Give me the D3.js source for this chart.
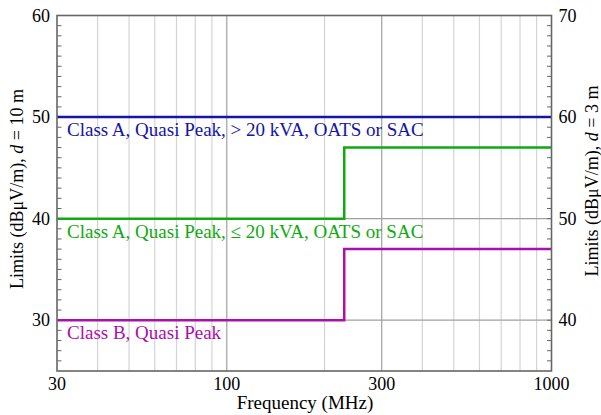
<!DOCTYPE html>
<html>
<head>
<meta charset="utf-8">
<script src="https://cdn.jsdelivr.net/npm/d3@7"></script>
<style>
  html, body { margin: 0; padding: 0; background: #fff; }
  svg { display: block; }
</style>
</head>
<body>
<svg id="chart" width="601" height="415"></svg>
<script>
// Radiated emission limits (quasi-peak), step change at 230 MHz
const freqBreaks = [30, 230, 1000];
const classAOver20kVA = [50, 50];
const classAUpTo20kVA = [40, 47];
const classB = [30, 37];
const seriesNames = [
  "Class A, Quasi Peak, > 20 kVA, OATS or SAC",
  "Class A, Quasi Peak, \u2264 20 kVA, OATS or SAC",
  "Class B, Quasi Peak"
];
const seriesColors = ["#1414a8", "#10aa10", "#aa10aa"];
const xTickValues = [30, 100, 300, 1000];
const xGridMinor = [40, 50, 60, 70, 80, 90, 200, 400, 500, 600, 700, 800, 900];
const yTickValues = [30, 40, 50, 60];
const y3mTickValues = [40, 50, 60, 70];

const FONT = '"Liberation Serif"';
const svg = d3.select("#chart");
const L = 57, R = 551.5, T = 15.5, B = 371;

const x = d3.scaleLog().domain([30, 1000]).range([L, R]);
const y = d3.scaleLinear().domain([25, 60]).range([B, T]);
const y3 = d3.scaleLinear().domain([35, 70]).range([B, T]);

// grid
const g = svg.append("g");
g.selectAll(".vminor").data(xGridMinor).join("line")
  .attr("x1", d => x(d)).attr("x2", d => x(d))
  .attr("y1", T).attr("y2", B)
  .attr("stroke", "#d4d4d4").attr("stroke-width", 1.2);
g.selectAll(".vmajor").data([100, 300]).join("line")
  .attr("x1", d => x(d)).attr("x2", d => x(d))
  .attr("y1", T).attr("y2", B)
  .attr("stroke", "#a0a0a0").attr("stroke-width", 1.2);
g.selectAll(".hmajor").data([30, 40, 50]).join("line")
  .attr("x1", L).attr("x2", R)
  .attr("y1", d => y(d)).attr("y2", d => y(d))
  .attr("stroke", "#a0a0a0").attr("stroke-width", 1.2);

// minor ticks on both y axes (inward)
const leftMinor = d3.range(26, 60, 1);
svg.append("g").selectAll("line").data(leftMinor).join("line")
  .attr("x1", L).attr("x2", L + 4.5)
  .attr("y1", d => y(d)).attr("y2", d => y(d))
  .attr("stroke", "#666").attr("stroke-width", 1);
const rightMinor = d3.range(36, 70, 1);
svg.append("g").selectAll("line").data(rightMinor).join("line")
  .attr("x1", R).attr("x2", R - 4.5)
  .attr("y1", d => y3(d)).attr("y2", d => y3(d))
  .attr("stroke", "#666").attr("stroke-width", 1);

// limit lines
const line = d3.line().curve(d3.curveStepAfter)
  .x(d => x(d[0])).y(d => y(d[1]));
const series = [classAOver20kVA, classAUpTo20kVA, classB];
series.forEach((vals, i) => {
  const pts = [[freqBreaks[0], vals[0]], [freqBreaks[1], vals[1]], [freqBreaks[2], vals[1]]];
  svg.append("path").datum(pts)
    .attr("d", line)
    .attr("fill", "none")
    .attr("stroke", seriesColors[i])
    .attr("stroke-width", 2.5);
  svg.append("text")
    .attr("x", L + 10)
    .attr("y", y(vals[0]) + 19)
    .style("font-family", FONT)
    .attr("font-size", 19)
    .attr("fill", seriesColors[i])
    .text(seriesNames[i]);
});

// frame
svg.append("rect")
  .attr("x", L).attr("y", T).attr("width", R - L).attr("height", B - T)
  .attr("fill", "none").attr("stroke", "#666").attr("stroke-width", 1.6);

// tick labels
svg.append("g").selectAll("text").data(xTickValues).join("text")
  .attr("x", d => x(d)).attr("y", B + 19)
  .attr("text-anchor", "middle").style("font-family", FONT).attr("font-size", 18).attr("fill", "#000")
  .text(d => d);
svg.append("g").selectAll("text").data(yTickValues).join("text")
  .attr("x", L - 7).attr("y", d => y(d) + 6)
  .attr("text-anchor", "end").style("font-family", FONT).attr("font-size", 18).attr("fill", "#000")
  .text(d => d);
svg.append("g").selectAll("text").data(y3mTickValues).join("text")
  .attr("x", R + 7).attr("y", d => y3(d) + 6)
  .attr("text-anchor", "start").style("font-family", FONT).attr("font-size", 18).attr("fill", "#000")
  .text(d => d);

// axis titles
svg.append("text")
  .attr("x", 305).attr("y", 409)
  .attr("text-anchor", "middle").style("font-family", FONT).attr("font-size", 19)
  .text("Frequency (MHz)");

const lt = svg.append("text")
  .attr("transform", "translate(23, 189) rotate(-90)")
  .attr("text-anchor", "middle").style("font-family", FONT).attr("font-size", 18);
lt.append("tspan").text("Limits (dB\u03bcV/m), ");
lt.append("tspan").attr("font-style", "italic").text("d");
lt.append("tspan").text(" = 10 m");

const rt = svg.append("text")
  .attr("transform", "translate(598, 181) rotate(-90)")
  .attr("text-anchor", "middle").style("font-family", FONT).attr("font-size", 18);
rt.append("tspan").text("Limits (dB\u03bcV/m), ");
rt.append("tspan").attr("font-style", "italic").text("d");
rt.append("tspan").text(" = 3 m");
</script>
</body>
</html>
